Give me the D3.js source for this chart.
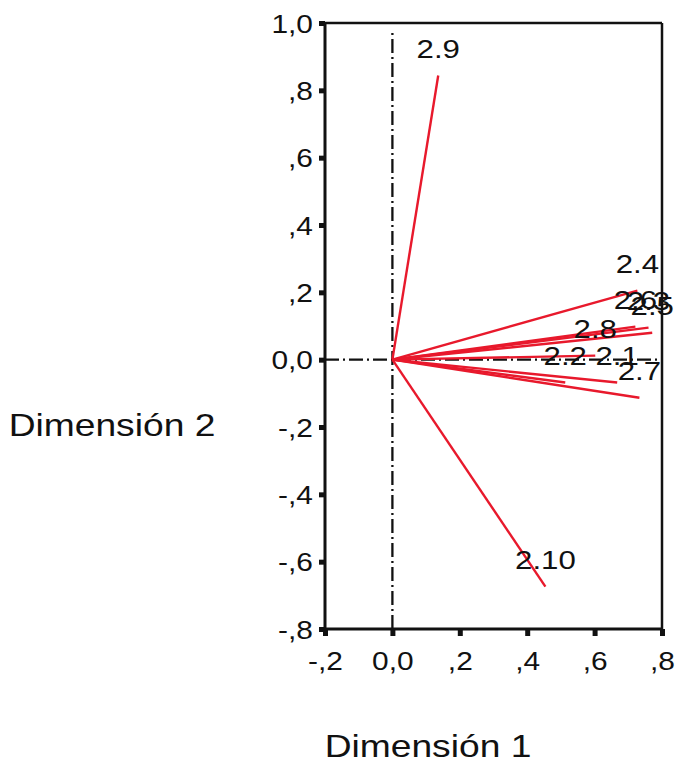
<!DOCTYPE html>
<html>
<head>
<meta charset="utf-8">
<script src="https://cdn.jsdelivr.net/npm/d3@7"></script>
<style>
html,body{margin:0;padding:0;background:#fff;}
svg{display:block;font-family:"Liberation Sans",Arial,sans-serif;}
</style>
</head>
<body>
<svg id="chart" width="676" height="763"></svg>
<script>
// ---- data ----
const variables = ["2.9","2.10","2.4","2.6","2.3","2.5","2.8","2.1","2.2","2.7"];
const dim1Loadings = [0.136, 0.454, 0.727, 0.721, 0.760, 0.771, 0.602, 0.667, 0.513, 0.733];
const dim2Loadings = [0.844, -0.674, 0.205, 0.098, 0.095, 0.080, 0.012, -0.068, -0.068, -0.113];
const xTickValues = [-0.2, 0, 0.2, 0.4, 0.6, 0.8];
const xTickLabels = ["-,2", "0,0", ",2", ",4", ",6", ",8"];
const yTickValues = [-0.8, -0.6, -0.4, -0.2, 0, 0.2, 0.4, 0.6, 0.8, 1.0];
const yTickLabels = ["-,8", "-,6", "-,4", "-,2", "0,0", ",2", ",4", ",6", ",8", "1,0"];
const xTitle = "Dimensión 1";
const yTitle = "Dimensión 2";

// ---- layout ----
(function () {
const svg = d3.select("#chart");
const mLeft = 325, mRight = 662, mTop = 23, mBottom = 629;
const x = d3.scaleLinear().domain([-0.2, 0.8]).range([mLeft, mRight]);
const y = d3.scaleLinear().domain([-0.8, 1.0]).range([mBottom, mTop]);
const red = "#e8192c";
const ink = "#111";
const stretchTick = 1.15, stretchLab = 1.2;

// reference lines (dash-dot)
svg.append("line")
  .attr("x1", x(0)).attr("x2", x(0))
  .attr("y1", y(-0.8)).attr("y2", y(0.98))
  .attr("stroke", ink).attr("stroke-width", 2.3)
  .attr("stroke-dasharray", "14,4,2,4");
svg.append("line")
  .attr("x1", x(-0.2)).attr("x2", x(0.8))
  .attr("y1", y(0)).attr("y2", y(0))
  .attr("stroke", ink).attr("stroke-width", 2.3)
  .attr("stroke-dasharray", "14,4,2,4");

// vectors
const data = variables.map((v, i) => ({name: v, d1: dim1Loadings[i], d2: dim2Loadings[i]}));
svg.append("g").selectAll("line").data(data).join("line")
  .attr("x1", x(0)).attr("y1", y(0))
  .attr("x2", d => x(d.d1)).attr("y2", d => y(d.d2))
  .attr("stroke", red).attr("stroke-width", 2.4);

// frame
svg.append("line").attr("x1", mLeft).attr("x2", mRight).attr("y1", mTop).attr("y2", mTop)
  .attr("stroke", ink).attr("stroke-width", 2.5);
svg.append("line").attr("x1", mRight).attr("x2", mRight).attr("y1", mTop).attr("y2", mBottom)
  .attr("stroke", ink).attr("stroke-width", 2.5);
svg.append("line").attr("x1", mLeft).attr("x2", mLeft).attr("y1", mTop - 1).attr("y2", mBottom + 1.5)
  .attr("stroke", ink).attr("stroke-width", 3);
svg.append("line").attr("x1", mLeft - 1.5).attr("x2", mRight + 1).attr("y1", mBottom).attr("y2", mBottom)
  .attr("stroke", ink).attr("stroke-width", 3);

// axes
const yAxis = d3.axisLeft(y).tickValues(yTickValues)
  .tickFormat((d, i) => yTickLabels[i]).tickSize(6).tickPadding(6);
const gy = svg.append("g").attr("transform", `translate(${mLeft},0)`).call(yAxis);
gy.select(".domain").remove();
gy.selectAll(".tick line").attr("stroke", ink).attr("stroke-width", 5);
gy.selectAll(".tick text")
  .attr("x", 0).attr("dy", null).attr("y", 9)
  .attr("transform", `translate(-12,0) scale(${stretchTick},1)`)
  .attr("text-anchor", "end")
  .attr("fill", ink).style("font-size", "26px")
  .style("font-family", "'Liberation Sans', Arial, sans-serif");

const xAxis = d3.axisBottom(x).tickValues(xTickValues)
  .tickFormat((d, i) => xTickLabels[i]).tickSize(7).tickPadding(6);
const gx = svg.append("g").attr("transform", `translate(0,${mBottom})`).call(xAxis);
gx.select(".domain").remove();
gx.selectAll(".tick line").attr("stroke", ink).attr("stroke-width", 5);
gx.selectAll(".tick text")
  .attr("y", 0).attr("dy", null).attr("x", 0)
  .attr("transform", `translate(0,41) scale(${stretchTick},1)`)
  .attr("text-anchor", "middle")
  .attr("fill", ink).style("font-size", "26px")
  .style("font-family", "'Liberation Sans', Arial, sans-serif");

// vector labels
svg.append("g").selectAll("text").data(data).join("text")
  .attr("transform", d => `translate(${x(d.d1)},${y(d.d2) - 18}) scale(${stretchLab},1)`)
  .attr("text-anchor", "middle")
  .attr("fill", ink).style("font-size", "26px")
  .text(d => d.name);

// axis titles
svg.append("text")
  .attr("transform", `translate(428,757) scale(${stretchLab},1)`)
  .attr("text-anchor", "middle").attr("fill", ink).style("font-size", "31px")
  .text(xTitle);
svg.append("text")
  .attr("transform", `translate(112,436) scale(${stretchLab},1)`)
  .attr("text-anchor", "middle").attr("fill", ink).style("font-size", "31px")
  .text(yTitle);
})();
</script>
</body>
</html>
